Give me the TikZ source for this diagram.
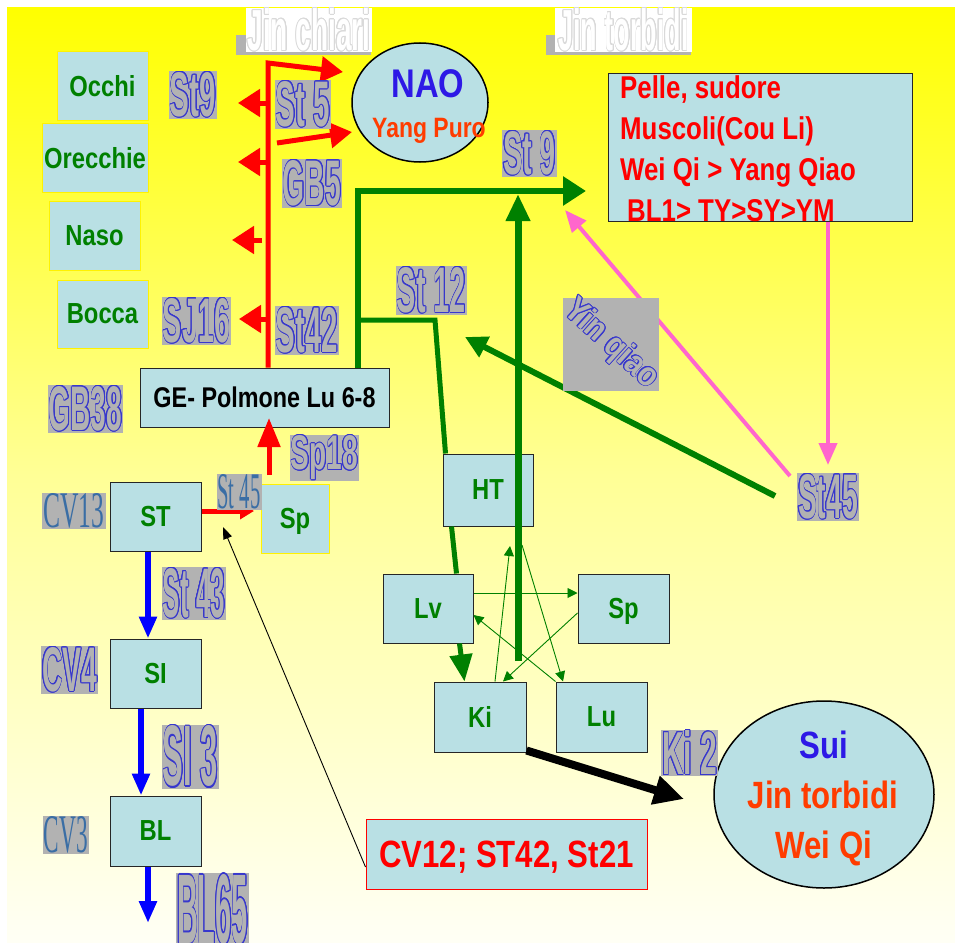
\documentclass[tikz,border=0pt]{standalone}
\usepackage{fontspec}
\setmainfont{Liberation Sans}
\newfontfamily\narrowsf[FakeStretch=0.82]{Liberation Sans}
\newfontfamily\labelsf[FakeStretch=0.5]{Liberation Sans}
\newfontfamily\timesf{Liberation Serif}
\usepackage{graphicx}
\usepackage{xcolor}
\usepackage{contour}
\contourlength{0.14pt}
\usepackage{tikz}
\usetikzlibrary{shapes,arrows.meta,positioning,calc}

\definecolor{boxblue}{RGB}{185,224,228}
\definecolor{orggreen}{RGB}{0,128,0}
\definecolor{naoblue}{RGB}{45,25,230}
\definecolor{hotred}{RGB}{255,60,0}
\definecolor{pinkarr}{RGB}{255,102,204}
\definecolor{lblgray}{RGB}{178,178,178}
\definecolor{lblblue}{RGB}{55,55,205}
\definecolor{steel}{RGB}{58,110,165}
\definecolor{paleyel}{RGB}{255,255,245}
\definecolor{midyel}{RGB}{255,255,150}

% outlined point labels, title labels, serif labels
\newcommand\olab[3]{\resizebox{#1pt}{#2pt}{\labelsf\bfseries\color{lblgray}\contour{lblblue}{#3}}}
\newcommand\tlab[3]{\resizebox{#1pt}{#2pt}{\labelsf\bfseries\color{white}\contour{black!15}{#3}}}
\newcommand\slab[3]{\resizebox{#1pt}{#2pt}{\timesf\color{steel}#3}}

\begin{document}
\begin{tikzpicture}[x=1pt,y=-1pt,
  box/.style={rectangle, fill=boxblue, inner sep=0pt, text depth=0pt, text=orggreen,
    font={\narrowsf\bfseries\fontsize{29}{31}\selectfont}},
  sense/.style={box, draw=yellow, line width=1pt},
  organ/.style={box, draw=black!85, line width=1pt},
  olabel/.style={fill=lblgray, inner sep=1pt},
  slabel/.style={fill=lblgray, inner sep=1pt},
  redline/.style={red, line width=5pt},
  greenline/.style={orggreen, line width=6pt},
  thinarrow/.style={orggreen, line width=0.9pt, -{Triangle[length=10pt,width=10pt]}},
  bluearrow/.style={blue, line width=6pt, -{Triangle[length=22pt,width=17pt]}},
  pinkarrow/.style={pinkarr, line width=4pt, -{Triangle[length=22pt,width=18pt]}},
  big/.style={font={\narrowsf\bfseries\fontsize{38}{40}\selectfont}}
]
\useasboundingbox (0,0) rectangle (955,942);
\fill[white] (0,0) rectangle (955,942);
\shade[top color=yellow, bottom color=paleyel, middle color=midyel] (7,8) rectangle (955,942);

% titles
\fill[lblgray] (236,35) rectangle (371,55);
\node[fill=white, inner sep=0pt, minimum width=126pt, minimum height=44pt] (jinchiari) at (309,30) {\tlab{123}{42}{Jin chiari}};
\fill[lblgray] (546,35) rectangle (691,55);
\node[fill=white, inner sep=0pt, minimum width=137pt, minimum height=44pt] (jintorbidi) at (623.5,30) {\tlab{130}{42}{Jin torbidi}};

% senses
\node[sense, minimum width=91pt, minimum height=68pt] (occhi) at (102.5,86) {Occhi};
\node[sense, minimum width=106pt, minimum height=69pt] (orecchie) at (95,157.5) {Orecchie};
\node[sense, minimum width=91pt, minimum height=69pt] (naso) at (94.5,235.5) {Naso};
\node[sense, minimum width=91pt, minimum height=68pt] (bocca) at (102.5,314) {Bocca};

% organs
\node[organ, text=black, font={\narrowsf\bfseries\fontsize{28.5}{30}\selectfont},
  minimum width=249pt, minimum height=59pt] (ge) at (264.5,397.5) {GE- Polmone Lu 6-8};
\node[organ, minimum width=91pt, minimum height=69pt] (st) at (155.5,516.5) {ST};
\node[organ, minimum width=91pt, minimum height=69pt] (si) at (155.5,673.5) {SI};
\node[organ, minimum width=91pt, minimum height=70pt] (bl) at (155.5,831) {BL};
\node[sense, minimum width=68pt, minimum height=69pt] (spl) at (295,518.5) {Sp};
\node[organ, minimum width=90pt, minimum height=72pt] (ht) at (488,490) {HT};
\node[organ, minimum width=90pt, minimum height=69pt] (lv) at (428,608.5) {Lv};
\node[organ, minimum width=91pt, minimum height=69pt] (sp) at (623.5,608.5) {Sp};
\node[organ, minimum width=92pt, minimum height=70pt] (ki) at (480,717) {Ki};
\node[organ, minimum width=91pt, minimum height=70pt] (lu) at (601.5,717) {Lu};

% NAO
\node[ellipse, draw=black, line width=1.5pt, fill=boxblue, minimum width=136pt,
  minimum height=119pt, inner sep=0pt] (nao) at (420,102.5) {};
\node[anchor=base, text=naoblue, font={\narrowsf\bfseries\fontsize{40}{40}\selectfont}] (naotxt) at (428,97) {NAO};
\node[anchor=base, text=hotred, font={\narrowsf\bfseries\fontsize{28}{28}\selectfont}] (yangpuro) at (429,137) {Yang Puro};

% Jin torbidi box
\node[rectangle, draw=black!85, line width=1pt, fill=boxblue, minimum width=304pt,
  minimum height=148pt] (pelle) at (760,147) {};
\node[anchor=north west, inner sep=0pt, align=left, text=red,
  font={\narrowsf\bfseries\fontsize{31.5}{41}\selectfont}] (pelletxt) at (620,75)
  {Pelle, sudore\\Muscoli(Cou Li)\\Wei Qi > Yang Qiao\\\hspace*{7pt}BL1> TY>SY>YM};

% CV12 and Sui
\node[rectangle, draw=red, line width=1pt, fill=boxblue, text=red, text depth=0pt, big,
  minimum width=281pt, minimum height=70pt, inner sep=0pt] (cv12) at (506.5,854) {CV12; ST42, St21};
\node[ellipse, draw=black, line width=1.5pt, fill=boxblue, minimum width=220pt,
  minimum height=187pt, inner sep=0pt] (sui) at (824,794.5) {};
\node[anchor=base, text=naoblue, big] (suitxt) at (824,758) {Sui};
\node[anchor=base, text=hotred, big] (jintxt) at (823,808) {Jin torbidi};
\node[anchor=base, text=hotred, big] (weiqi) at (824,858) {Wei Qi};

% red
\coordinate (rtop) at (268,63);
\coordinate (naoa) at (343,72);
\coordinate (r5) at (277,143);
\coordinate (naob) at (352,132);
\coordinate (eyes) at (238,103);
\coordinate (ears) at (238,162);
\coordinate (nose) at (232,240);
\coordinate (mouth) at (239,319);
\coordinate (sp18) at (269,475);
\coordinate (geup) at (269,418);
\coordinate (stsp) at (254,511);
\draw[redline, line join=miter, -{Triangle[length=22pt,width=25pt]}] (ge.north -| rtop) -- (rtop) -- (naoa);
\draw[redline, -{Triangle[length=22pt,width=25pt]}] (r5) -- (naob);
\draw[redline, -{Triangle[length=22pt,width=27pt]}] (rtop |- eyes) -- (eyes);
\draw[redline, -{Triangle[length=22pt,width=27pt]}] (rtop |- ears) -- (ears);
\draw[redline, -{Triangle[length=22pt,width=27pt]}] ([xshift=-6pt]rtop |- nose) -- (nose);
\draw[redline, -{Triangle[length=22pt,width=27pt]}] (rtop |- mouth) -- (mouth);
\draw[redline, -{Triangle[length=29pt,width=22pt]}] (sp18) -- (geup);
\draw[redline, -{Triangle[length=14pt,width=16pt]}] ([yshift=5.5pt]st.east) -- (stsp);

% green
\coordinate (gcorner) at (358,191);
\coordinate (st9tip) at (586,191);
\coordinate (g12) at (358,320);
\coordinate (g12b) at (435,320);
\coordinate (kiup) at (518,661);
\coordinate (kitop) at (518,194);
\coordinate (st45g) at (775,496);
\coordinate (st12tip) at (465,337);
\draw[greenline, line join=miter, -{Triangle[length=23pt,width=28pt]}] (ge.north -| gcorner) -- (gcorner) -- (st9tip);
\draw[greenline, line width=5pt] (g12) -- (g12b) -- ([xshift=3pt]ht.north west);
\draw[greenline, line width=5pt] ([xshift=9pt]ht.south west) -- ([xshift=74pt]lv.north west);
\draw[greenline, line width=5pt, -{Triangle[length=27pt,width=22pt]}] ([xshift=77pt]lv.south west) -- ([xshift=31pt]ki.north west);
\draw[greenline, line width=7pt, -{Triangle[length=27pt,width=23pt]}] (kiup) -- (kitop);
\draw[greenline, -{Triangle[length=22pt,width=22pt]}] (st45g) -- (st12tip);

% pentagram
\coordinate (htin) at (510,546);
\coordinate (htout) at (522,545);
\draw[thinarrow] ([yshift=15.5pt]lv.east) -- ([yshift=15.5pt]sp.west);
\draw[thinarrow] ([yshift=-4.5pt]sp.west) -- ([xshift=23pt]ki.north);
\draw[thinarrow] ([xshift=15pt]ki.north) -- (htin);
\draw[thinarrow] (htout) -- ([xshift=-38.5pt]lu.north);
\draw[thinarrow] (lu.north west) -- ([yshift=-6.5pt]lv.east);

% pink
\coordinate (st45top) at (828,465);
\coordinate (st45p) at (790,476);
\coordinate (pelletip) at (565,210);
\draw[pinkarrow] ([xshift=68pt]pelle.south) -- (st45top);
\draw[pinkarrow] (st45p) -- (pelletip);

% black
\coordinate (suitip) at (684,799);
\coordinate (sttip) at (223,527);
\draw[black, line width=8pt, -{Triangle[length=30pt,width=28pt]}] ([yshift=2pt]ki.south east) -- (suitip);
\draw[black, line width=0.9pt, -{Triangle[length=12pt,width=9pt]}] ([yshift=-13pt]cv12.west) -- (sttip);

% blue
\coordinate (blout) at (148,923);
\draw[bluearrow] ([xshift=-7.5pt]st.south) -- ([xshift=-7.5pt]si.north);
\draw[bluearrow] ([xshift=-14.5pt]si.south) -- ([xshift=-14.5pt]bl.north);
\draw[bluearrow] ([xshift=-7.5pt]bl.south) -- (blout);

% point labels
\node[olabel] (lst9) at (193,95) {\olab{46}{44}{St9}};
\node[olabel] (lst5) at (303,104.5) {\olab{54}{45}{St 5}};
\node[olabel] (lgb5) at (312,183.5) {\olab{58}{45}{GB5}};
\node[olabel] (lsj16) at (196.5,321) {\olab{67}{44}{SJ16}};
\node[olabel] (lst42) at (307,330.5) {\olab{62}{45}{St42}};
\node[olabel] (lgb38) at (85.5,409) {\olab{73}{44}{GB38}};
\node[olabel] (lsp18) at (324.5,458) {\olab{67}{34}{Sp18}};
\node[olabel] (lst43) at (194,593.5) {\olab{62}{49}{St 43}};
\node[olabel] (lcv4) at (69.5,670) {\olab{55}{44}{CV4}};
\node[olabel] (lsi3) at (190.5,757) {\olab{55}{60}{SI 3}};
\node[olabel] (lbl65) at (212.5,910) {\olab{71}{69}{BL65}};
\node[olabel] (lst9b) at (529.5,153.5) {\olab{53}{43}{St 9}};
\node[olabel] (lst12) at (431.5,290.5) {\olab{69}{45}{St 12}};
\node[olabel] (lst45r) at (828,497) {\olab{60}{44}{St45}};
\node[olabel] (lki2) at (689.5,753) {\olab{55}{44}{Ki 2}};
\node[fill=lblgray, minimum width=96pt, minimum height=93pt, inner sep=0pt] (yinbox) at (611,344.5) {};
\node[rotate=-42, inner sep=0pt] (yinqiao) at (611,344.5) {\olab{115}{25}{Yin qiao}};
\node[slabel] (lst45) at (239,492) {\slab{43}{34}{St 45}};
\node[slabel] (lcv13) at (74,511) {\slab{61}{34}{CV13}};
\node[slabel] (lcv3) at (66,835) {\slab{44}{36}{CV3}};
\end{tikzpicture}
\end{document}
